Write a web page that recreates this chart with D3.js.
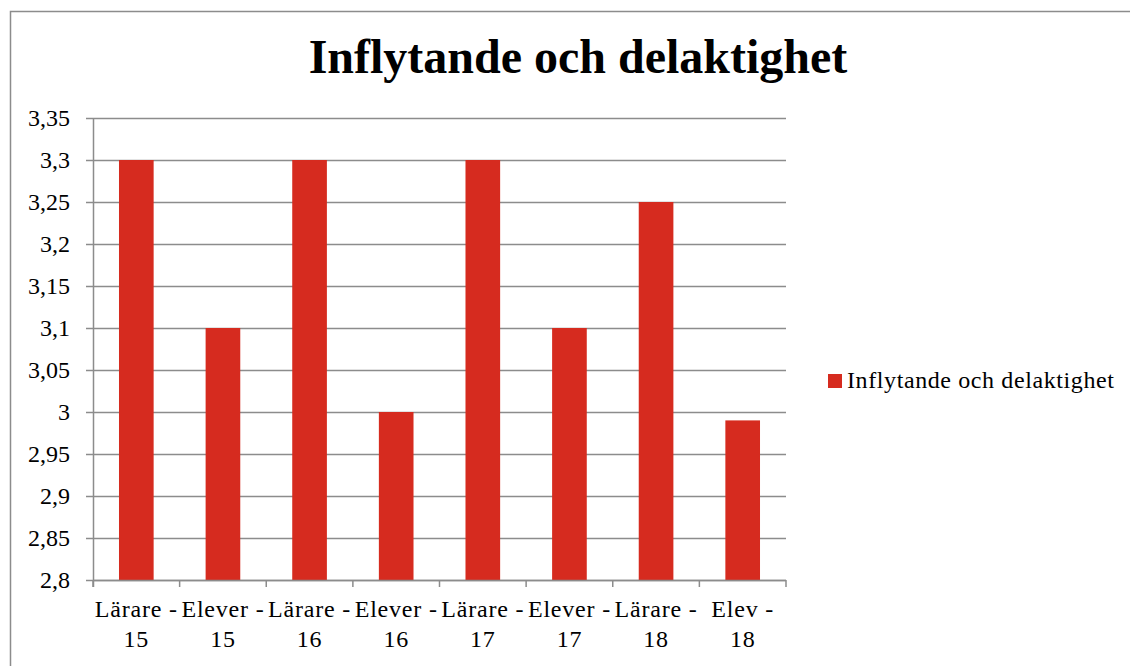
<!DOCTYPE html>
<html>
<head>
<meta charset="utf-8">
<script src="https://cdn.jsdelivr.net/npm/d3@7"></script>
<style>
body { margin: 0; background: #fff; }
svg text { font-family: "Liberation Serif", "Times New Roman", serif; fill: #000; }
</style>
</head>
<body>
<div id="chart"></div>
<script>
var categories = [["Lärare -", "15"], ["Elever -", "15"], ["Lärare -", "16"], ["Elever -", "16"],
                  ["Lärare -", "17"], ["Elever -", "17"], ["Lärare -", "18"], ["Elev -", "18"]];
var values = [3.3, 3.1, 3.3, 3.0, 3.3, 3.1, 3.25, 2.99];
var yTicks = [2.8, 2.85, 2.9, 2.95, 3, 3.05, 3.1, 3.15, 3.2, 3.25, 3.3, 3.35];
var seriesName = "Inflytande och delaktighet";
var titleText = "Inflytande och delaktighet";

var svg = d3.select("#chart").append("svg")
    .attr("width", 1130)
    .attr("height", 666);

// outer frame (runs off the right and bottom edges)
svg.append("rect")
    .attr("x", 10.5).attr("y", 11.5)
    .attr("width", 1140).attr("height", 670)
    .attr("fill", "none")
    .attr("stroke", "#8c8c8c")
    .attr("stroke-width", 1.5);

var plotLeft = 93, plotRight = 786, plotTop = 118, plotBottom = 580;

var x = d3.scaleBand()
    .domain(d3.range(categories.length))
    .range([plotLeft, plotRight])
    .paddingInner(0.6)
    .paddingOuter(0.3);

var y = d3.scaleLinear()
    .domain([2.8, 3.35])
    .range([plotBottom, plotTop]);

var fmt = function(d) { return String(+d.toFixed(2)).replace(".", ","); };

// grid lines
svg.append("g")
    .selectAll("line")
    .data(yTicks)
    .enter().append("line")
    .attr("x1", plotLeft - 7)
    .attr("x2", plotRight)
    .attr("y1", function(d) { return Math.round(y(d)) + 0.5; })
    .attr("y2", function(d) { return Math.round(y(d)) + 0.5; })
    .attr("stroke", "#8c8c8c")
    .attr("stroke-width", 1.5);

// y labels
svg.append("g")
    .selectAll("text")
    .data(yTicks)
    .enter().append("text")
    .attr("x", 70)
    .attr("y", function(d) { return y(d); })
    .attr("dy", "0.33em")
    .attr("text-anchor", "end")
    .attr("font-size", "24px")
    .text(fmt);

// bars
svg.append("g")
    .selectAll("rect")
    .data(values)
    .enter().append("rect")
    .attr("x", function(d, i) { return x(i); })
    .attr("width", x.bandwidth())
    .attr("y", function(d) { return y(d); })
    .attr("height", function(d) { return plotBottom - y(d); })
    .attr("fill", "#d62b1f");

// axes lines
svg.append("line")
    .attr("x1", plotLeft + 0.5).attr("x2", plotLeft + 0.5)
    .attr("y1", plotTop).attr("y2", plotBottom + 7)
    .attr("stroke", "#8c8c8c").attr("stroke-width", 1.5);
svg.append("line")
    .attr("x1", plotLeft).attr("x2", plotRight)
    .attr("y1", plotBottom + 0.5).attr("y2", plotBottom + 0.5)
    .attr("stroke", "#8c8c8c").attr("stroke-width", 1.5);

var step = (plotRight - plotLeft) / categories.length;
svg.append("g")
    .selectAll("line")
    .data(d3.range(categories.length + 1))
    .enter().append("line")
    .attr("x1", function(d) { return plotLeft + d * step; })
    .attr("x2", function(d) { return plotLeft + d * step; })
    .attr("y1", plotBottom)
    .attr("y2", plotBottom + 7)
    .attr("stroke", "#8c8c8c").attr("stroke-width", 1.5);

// category labels
var cat = svg.append("g")
    .selectAll("text")
    .data(categories)
    .enter().append("text")
    .attr("text-anchor", "middle")
    .attr("font-size", "24px")
    .attr("letter-spacing", "0.8px")
    .attr("transform", function(d, i) { return "translate(" + (x(i) + x.bandwidth() / 2) + ",0)"; });
cat.append("tspan").attr("x", 0).attr("y", 617).text(function(d) { return d[0]; });
cat.append("tspan").attr("x", 0).attr("y", 647).text(function(d) { return d[1]; });

// title
svg.append("text")
    .attr("x", 578)
    .attr("y", 73)
    .attr("text-anchor", "middle")
    .attr("font-size", "48px")
    .attr("font-weight", "bold")
    .text(titleText);

// legend
svg.append("rect")
    .attr("x", 828).attr("y", 374)
    .attr("width", 14).attr("height", 14)
    .attr("fill", "#d62b1f");
svg.append("text")
    .attr("x", 847).attr("y", 388)
    .attr("font-size", "24px")
    .attr("letter-spacing", "0.6px")
    .text(seriesName);
</script>
</body>
</html>
